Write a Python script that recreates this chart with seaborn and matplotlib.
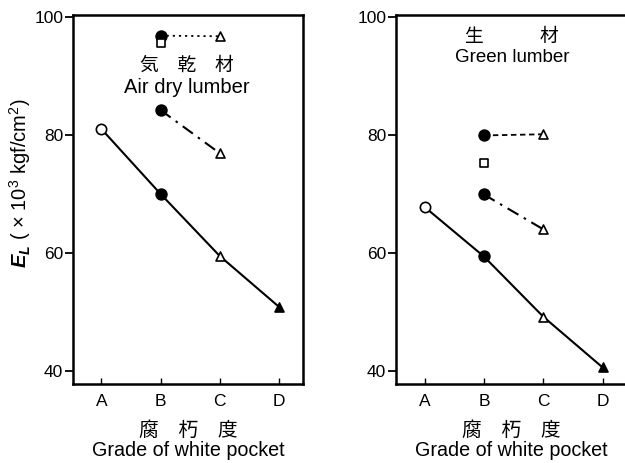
import matplotlib
matplotlib.use("Agg")
import matplotlib.pyplot as plt
import seaborn as sns
import pandas as pd

# Grades of white pocket and modulus of elasticity (x10^3 kgf/cm^2)
grades = ["A", "B", "C", "D"]

air_main = [81.0, 70.0, 59.5, 50.9]      # A..D, solid line
air_dashdot = [84.2, 76.9]               # B, C
air_dotted = [96.8, 96.7]                # B, C
air_square = 95.5                        # B

green_main = [67.8, 59.4, 49.2, 40.6]    # A..D, solid line
green_dashdot = [69.9, 64.0]             # B, C
green_dashed = [79.9, 80.1]              # B, C
green_square = 75.3                      # B

y_ticks = [40, 60, 80, 100]

sns.set_style("ticks")
LAT = ["Liberation Sans", "Noto Sans CJK JP"]
plt.rcParams["font.family"] = LAT
plt.rcParams["mathtext.fontset"] = "custom"
plt.rcParams["mathtext.it"] = "Liberation Sans:italic:bold"
plt.rcParams["mathtext.rm"] = "Liberation Sans"
for key in ["text.color", "axes.labelcolor", "xtick.color", "ytick.color",
            "axes.edgecolor"]:
    plt.rcParams[key] = "black"

fig = plt.figure(figsize=(6.25, 4.63), dpi=100)
W, H = 625, 463


def px_axes(x0, x1, y0, y1):
    return fig.add_axes([x0 / W, 1 - y1 / H, (x1 - x0) / W, (y1 - y0) / H])


ax_air = px_axes(73, 303, 15, 384)
ax_green = px_axes(396, 627, 15, 384)

pos = {g: i for i, g in enumerate(grades)}


def markers(ax, xs, ys, marker, filled, size):
    df = pd.DataFrame({"x": xs, "y": ys})
    sns.scatterplot(data=df, x="x", y="y", ax=ax, marker=marker, s=size,
                    color="black" if filled else "white",
                    edgecolor="black", linewidth=1.2, zorder=4, legend=False)


def draw_panel(ax, main, dashdot, upper, upper_style, square):
    bc = [pos["B"], pos["C"]]
    xs = [pos[g] for g in grades]
    sns.lineplot(x=xs, y=main, ax=ax, color="black", lw=1.5, estimator=None,
                 sort=False, zorder=2)
    sns.lineplot(x=bc, y=dashdot, ax=ax, color="black", lw=1.5, estimator=None,
                 sort=False, zorder=2)
    ax.lines[-1].set_dashes([6, 3, 1.2, 3])
    sns.lineplot(x=bc, y=upper, ax=ax, color="black", lw=1.3, estimator=None,
                 sort=False, zorder=2)
    ax.lines[-1].set_dashes(upper_style)

    # circles at A (open) and B (filled), triangles at C (open) and D (filled)
    markers(ax, [pos["A"]], [main[0]], "o", False, 55)
    markers(ax, [pos["B"], pos["B"], pos["B"]], [main[1], dashdot[0], upper[0]],
            "o", True, 60)
    markers(ax, [pos["C"], pos["C"], pos["C"]], [main[2], dashdot[1], upper[1]],
            "^", False, 42)
    markers(ax, [pos["D"]], [main[3]], "^", True, 42)
    markers(ax, [pos["B"]], [square], "s", False, 30)

    ax.set_xlim(-0.48, 3.41)
    ax.set_ylim(37.8, 100.3)
    ax.set_xticks(range(len(grades)))
    ax.set_xticklabels(grades)
    ax.set_yticks(y_ticks)
    ax.tick_params(axis="y", direction="out", length=6, width=1.3, pad=1,
                   labelsize=12.5, color="black", labelcolor="black")
    ax.tick_params(axis="x", direction="in", length=4, width=1.0, pad=7,
                   labelsize=12.5, color="black", labelcolor="black")
    for sp in ax.spines.values():
        sp.set_linewidth(1.8)
        sp.set_color("black")
        sp.set_visible(True)
    ax.set_xlabel("腐　朽　度\nGrade of white pocket", fontsize=14.2,
                  labelpad=9, linespacing=1.05, family=LAT, color="black")
    ax.set_ylabel("")


draw_panel(ax_air, air_main, air_dashdot, air_dotted, [1.2, 2.2], air_square)
draw_panel(ax_green, green_main, green_dashdot, green_dashed, [3, 2], green_square)

ax_air.set_ylabel(r"$E_L$ ( × 10$^3$ kgf/cm$^2$)", fontsize=14.5, color="black")
ax_air.yaxis.set_label_coords(-0.172, 0.545)

ax_air.text(1.45, 91.7, "気　乾　材", ha="center", va="center", fontsize=13.5,
            family=LAT, color="black")
ax_air.text(1.45, 88.1, "Air dry lumber", ha="center", va="center",
            fontsize=14.5, color="black")
ax_green.text(1.47, 96.5, "生　　　材", ha="center", va="center", fontsize=13.5,
              family=LAT, color="black")
ax_green.text(1.47, 93.1, "Green lumber", ha="center", va="center",
              fontsize=13.5, color="black")

fig.savefig("out.png", dpi=100)
